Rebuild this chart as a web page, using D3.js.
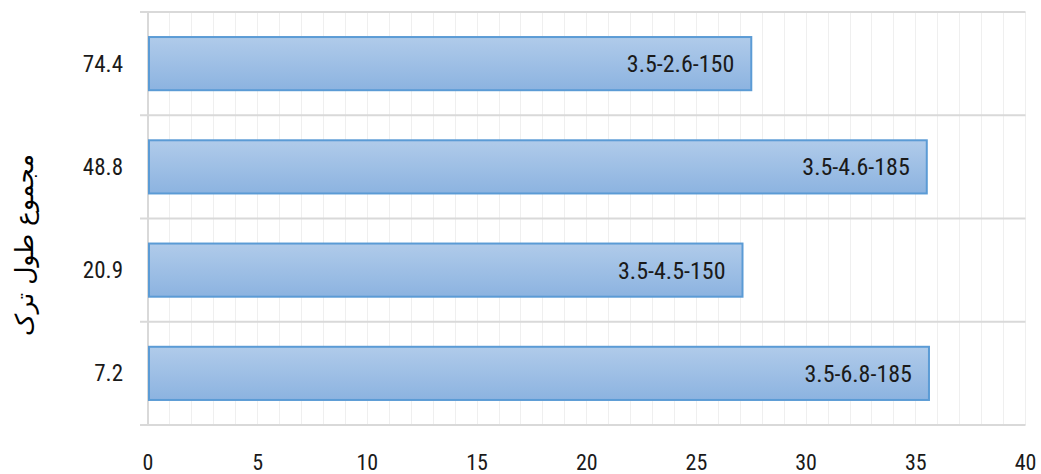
<!DOCTYPE html>
<html><head><meta charset="utf-8">
<script src="https://cdn.jsdelivr.net/npm/d3@7"></script>
<style>
body{margin:0;background:#fff;}
text{font-family:"Roboto Condensed","Liberation Sans Narrow","Arial Narrow",sans-serif;font-weight:400;}
</style></head>
<body><svg id="c" width="1041" height="474"></svg>
<script>
const categories = ["74.4", "48.8", "20.9", "7.2"];
const values = [27.5, 35.5, 27.1, 35.6];
const barLabels = ["3.5-2.6-150", "3.5-4.6-185", "3.5-4.5-150", "3.5-6.8-185"];
const xTicks = [0, 5, 10, 15, 20, 25, 30, 35, 40];
const yTitle = "مجموع طول ترک";

const svg = d3.select("#c");
const m = {left:148, right:1041-1025.5, top:12, bottom:474-425};
const W = 1041, H = 474;
const x = d3.scaleLinear().domain([0,40]).range([m.left, W-m.right]);
const y = d3.scaleBand().domain(categories).range([m.top, H-m.bottom]).paddingInner(0).paddingOuter(0);

const defs = svg.append("defs");
const g = defs.append("linearGradient").attr("id","bg").attr("x1",0).attr("y1",0).attr("x2",0).attr("y2",1);
g.append("stop").attr("offset","0%").attr("stop-color","#b0cbea");
g.append("stop").attr("offset","100%").attr("stop-color","#8cb3e0");

// minor vertical gridlines
svg.append("g").selectAll("line").data(d3.range(1,41)).join("line")
  .attr("x1",d=>x(d)).attr("x2",d=>x(d)).attr("y1",m.top).attr("y2",H-m.bottom)
  .attr("stroke","#efefef").attr("stroke-width",1).attr("shape-rendering","crispEdges");

// horizontal band separators
const bounds = categories.map(c=>y(c)).concat([H-m.bottom]);
svg.append("g").selectAll("line").data(bounds).join("line")
  .attr("x1",m.left-8).attr("x2",x(40)).attr("y1",d=>d).attr("y2",d=>d)
  .attr("stroke","#d9d9d9").attr("stroke-width",2);

// left axis line
svg.append("line").attr("x1",m.left).attr("x2",m.left).attr("y1",m.top).attr("y2",H-m.bottom)
  .attr("stroke","#d9d9d9").attr("stroke-width",2);

// bars
const bh = y.bandwidth()*0.515;
svg.append("g").selectAll("rect").data(categories).join("rect")
  .attr("x",x(0)+1).attr("y",c=>y(c)+(y.bandwidth()-bh)/2)
  .attr("width",(c,i)=>x(values[i])-x(0)-1).attr("height",bh)
  .attr("fill","url(#bg)").attr("stroke","#5b9bd5").attr("stroke-width",2);

// bar labels
svg.append("g").selectAll("text").data(categories).join("text")
  .attr("x",(c,i)=>x(values[i])-17).attr("y",c=>y(c)+y.bandwidth()/2)
  .attr("dy","0.35em").attr("text-anchor","end").attr("font-size",24).attr("fill","#1a1a1a")
  .text((c,i)=>barLabels[i]);

// y category labels
svg.append("g").selectAll("text").data(categories).join("text")
  .attr("x",123).attr("y",c=>y(c)+y.bandwidth()/2)
  .attr("dy","0.35em").attr("text-anchor","end").attr("font-size",23).attr("fill","#1a1a1a")
  .text(c=>c);

// x tick labels
svg.append("g").selectAll("text").data(xTicks).join("text")
  .attr("x",d=>x(d)).attr("y",462).attr("dy","0.35em").attr("text-anchor","middle")
  .attr("font-size",22).attr("fill","#1a1a1a").text(d=>d);

// y title
svg.append("text").attr("transform","translate(24,245) rotate(-90)")
  .attr("text-anchor","middle").attr("dy","0.35em").attr("font-size",25)
  .style("font-family","'DejaVu Sans',sans-serif").style("font-weight","400").attr("fill","#000").text(yTitle);
</script></body></html>
